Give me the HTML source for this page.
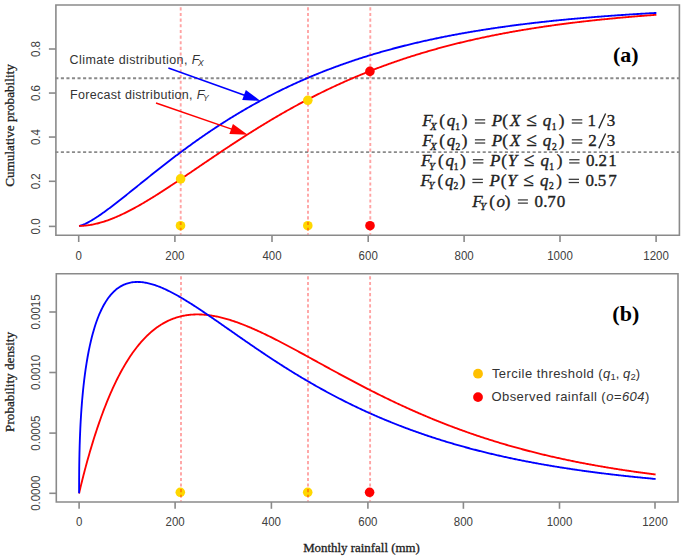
<!DOCTYPE html>
<html><head><meta charset="utf-8"><title>Cumulative and probability density</title><style>
html,body{margin:0;padding:0;background:#fff;overflow:hidden;}
svg{display:block;}
.tk{font-family:"Liberation Sans",sans-serif;font-size:11.5px;fill:#404040;}
.yl,.xl{font-family:"Liberation Serif",serif;font-size:13.2px;fill:#222;stroke:#222;stroke-width:0.3px;}
.xl{font-size:12.9px;}
.tag{font-family:"Liberation Serif",serif;font-size:22px;font-weight:bold;fill:#000;}
.ann{font-family:"Liberation Sans",sans-serif;font-size:12.5px;fill:#333;letter-spacing:0.4px;}
.lg{font-family:"Liberation Sans",sans-serif;font-size:13px;fill:#333;letter-spacing:0.45px;}
.fm{font-family:"Liberation Serif",serif;font-size:17px;fill:#222;}
.fm text{stroke:#222;stroke-width:0.35px;}
.fm rect{fill:#3a3a3a;}
.fm line{stroke:#2a2a2a;}
</style></head><body>
<svg width="685" height="559" viewBox="0 0 685 559">
<rect width="685" height="559" fill="#fff"/>
<path d="M55.9 5.0H679.4V235.2H55.9Z" fill="none" stroke="#8a8a8a" stroke-width="1.6"/>
<line x1="78.7" y1="235.2" x2="78.7" y2="242.0" stroke="#8a8a8a" stroke-width="1.6"/>
<text transform="translate(78.7 259.5) scale(1 1.1)" class="tk" text-anchor="middle">0</text>
<line x1="174.9" y1="235.2" x2="174.9" y2="242.0" stroke="#8a8a8a" stroke-width="1.6"/>
<text transform="translate(174.9 259.5) scale(1 1.1)" class="tk" text-anchor="middle">200</text>
<line x1="272.0" y1="235.2" x2="272.0" y2="242.0" stroke="#8a8a8a" stroke-width="1.6"/>
<text transform="translate(272.0 259.5) scale(1 1.1)" class="tk" text-anchor="middle">400</text>
<line x1="368.2" y1="235.2" x2="368.2" y2="242.0" stroke="#8a8a8a" stroke-width="1.6"/>
<text transform="translate(368.2 259.5) scale(1 1.1)" class="tk" text-anchor="middle">600</text>
<line x1="464.1" y1="235.2" x2="464.1" y2="242.0" stroke="#8a8a8a" stroke-width="1.6"/>
<text transform="translate(464.1 259.5) scale(1 1.1)" class="tk" text-anchor="middle">800</text>
<line x1="560.0" y1="235.2" x2="560.0" y2="242.0" stroke="#8a8a8a" stroke-width="1.6"/>
<text transform="translate(560.0 259.5) scale(1 1.1)" class="tk" text-anchor="middle">1000</text>
<line x1="656.1" y1="235.2" x2="656.1" y2="242.0" stroke="#8a8a8a" stroke-width="1.6"/>
<text transform="translate(656.1 259.5) scale(1 1.1)" class="tk" text-anchor="middle">1200</text>
<line x1="48.9" y1="226.4" x2="55.9" y2="226.4" stroke="#8a8a8a" stroke-width="1.6"/>
<text transform="translate(40.3 226.4) rotate(-90) scale(1 1.1)" class="tk" text-anchor="middle">0.0</text>
<line x1="48.9" y1="181.3" x2="55.9" y2="181.3" stroke="#8a8a8a" stroke-width="1.6"/>
<text transform="translate(40.3 181.3) rotate(-90) scale(1 1.1)" class="tk" text-anchor="middle">0.2</text>
<line x1="48.9" y1="137.05" x2="55.9" y2="137.05" stroke="#8a8a8a" stroke-width="1.6"/>
<text transform="translate(40.3 137.05) rotate(-90) scale(1 1.1)" class="tk" text-anchor="middle">0.4</text>
<line x1="48.9" y1="93.05" x2="55.9" y2="93.05" stroke="#8a8a8a" stroke-width="1.6"/>
<text transform="translate(40.3 93.05) rotate(-90) scale(1 1.1)" class="tk" text-anchor="middle">0.6</text>
<line x1="48.9" y1="49.0" x2="55.9" y2="49.0" stroke="#8a8a8a" stroke-width="1.6"/>
<text transform="translate(40.3 49.0) rotate(-90) scale(1 1.1)" class="tk" text-anchor="middle">0.8</text>
<text transform="translate(14.3 125.5) rotate(-90)" class="yl" text-anchor="middle">Cumulative probability</text>
<text x="625.8" y="62.0" class="tag" text-anchor="middle">(a)</text>
<line x1="55.3" y1="152.07" x2="679.4" y2="152.07" stroke="#8a8a8a" stroke-width="1.8" stroke-dasharray="3.1 2.45"/>
<line x1="55.3" y1="78.23" x2="679.4" y2="78.23" stroke="#8a8a8a" stroke-width="1.8" stroke-dasharray="3.1 2.45"/>
<polyline points="79.00,225.90 79.48,225.84 79.96,225.75 80.44,225.63 80.92,225.49 81.41,225.34 81.89,225.18 82.37,225.01 82.85,224.83 83.33,224.64 83.81,224.44 84.29,224.23 84.77,224.02 85.26,223.80 85.74,223.57 86.22,223.34 86.70,223.10 87.18,222.86 87.66,222.61 88.14,222.35 88.62,222.09 89.59,221.56 90.55,221.02 91.51,220.46 92.47,219.88 93.43,219.29 94.40,218.69 95.36,218.08 96.32,217.46 97.28,216.82 98.25,216.18 99.21,215.53 100.17,214.87 101.13,214.20 102.10,213.53 103.06,212.85 104.02,212.16 104.98,211.46 105.94,210.76 106.91,210.06 107.87,209.34 108.83,208.63 109.79,207.91 110.76,207.18 111.72,206.45 112.68,205.72 113.64,204.98 114.61,204.24 115.57,203.50 116.53,202.75 117.49,202.00 118.46,201.25 119.42,200.50 120.38,199.74 121.34,198.98 122.30,198.22 123.27,197.46 124.23,196.69 125.19,195.93 126.15,195.16 127.12,194.39 128.08,193.62 129.04,192.85 130.00,192.08 130.97,191.31 131.93,190.54 132.89,189.76 133.85,188.99 134.81,188.22 135.78,187.44 136.74,186.67 137.70,185.89 138.66,185.12 139.63,184.35 140.59,183.57 141.55,182.80 142.51,182.02 143.48,181.25 144.44,180.48 145.40,179.71 146.36,178.93 147.32,178.16 148.29,177.39 149.25,176.62 150.21,175.86 151.17,175.09 152.14,174.32 153.10,173.56 154.06,172.79 155.02,172.03 155.99,171.27 156.95,170.51 157.91,169.75 158.87,168.99 159.83,168.23 160.80,167.48 161.76,166.72 162.72,165.97 163.68,165.22 164.65,164.47 165.61,163.72 166.57,162.98 167.53,162.23 168.50,161.49 169.46,160.75 170.42,160.01 171.38,159.27 172.35,158.54 173.31,157.80 174.27,157.07 175.23,156.34 176.19,155.61 177.16,154.89 178.12,154.16 179.08,153.44 180.04,152.72 181.01,152.00 181.97,151.28 182.93,150.57 183.89,149.86 184.86,149.15 185.82,148.44 186.78,147.74 187.74,147.03 188.70,146.33 189.67,145.63 190.63,144.93 191.59,144.24 192.55,143.55 193.52,142.86 194.48,142.17 195.44,141.48 196.40,140.80 197.37,140.12 198.33,139.44 199.29,138.77 200.25,138.09 201.21,137.42 202.18,136.75 203.14,136.08 204.10,135.42 205.06,134.76 206.03,134.10 206.99,133.44 207.95,132.79 208.91,132.13 209.88,131.48 210.84,130.84 211.80,130.19 212.76,129.55 213.72,128.91 214.69,128.27 215.65,127.63 216.61,127.00 217.57,126.37 218.54,125.74 219.50,125.11 220.46,124.49 221.42,123.87 222.39,123.25 223.35,122.64 224.31,122.02 225.27,121.41 226.23,120.80 227.20,120.20 228.16,119.59 229.12,118.99 230.08,118.39 231.05,117.80 232.01,117.20 232.97,116.61 233.93,116.02 234.90,115.44 235.86,114.85 236.82,114.27 237.78,113.69 238.75,113.12 239.71,112.54 240.67,111.97 241.63,111.40 242.59,110.83 243.56,110.27 244.52,109.71 245.48,109.15 246.44,108.59 247.41,108.04 248.37,107.48 249.33,106.93 250.29,106.39 251.26,105.84 252.22,105.30 253.18,104.76 254.14,104.22 255.10,103.69 256.07,103.15 257.03,102.62 257.99,102.10 258.95,101.57 259.92,101.05 260.88,100.53 261.84,100.01 262.80,99.49 263.77,98.98 264.73,98.47 265.69,97.96 266.65,97.45 267.61,96.94 268.58,96.44 269.54,95.94 270.50,95.45 271.46,94.95 272.43,94.46 273.39,93.97 274.35,93.48 275.31,92.99 276.28,92.51 277.24,92.03 278.20,91.55 279.16,91.07 280.12,90.60 281.09,90.13 282.05,89.66 283.01,89.19 283.97,88.72 284.94,88.26 285.90,87.80 286.86,87.34 287.82,86.88 288.79,86.43 289.75,85.98 290.71,85.53 291.67,85.08 292.64,84.63 293.60,84.19 294.56,83.75 295.52,83.31 296.48,82.87 297.45,82.44 298.41,82.00 299.37,81.57 300.33,81.14 301.30,80.72 302.26,80.29 303.22,79.87 304.18,79.45 305.15,79.03 306.11,78.62 307.07,78.20 308.03,77.79 308.99,77.38 309.96,76.97 310.92,76.57 311.88,76.16 312.84,75.76 313.81,75.36 314.77,74.97 315.73,74.57 316.69,74.18 317.66,73.79 318.62,73.40 319.58,73.01 320.54,72.62 321.50,72.24 322.47,71.86 323.43,71.48 324.39,71.10 325.35,70.72 326.32,70.35 327.28,69.98 328.24,69.61 329.20,69.24 330.17,68.87 331.13,68.51 332.09,68.15 333.05,67.79 334.01,67.43 334.98,67.07 335.94,66.71 336.90,66.36 337.86,66.01 338.83,65.66 339.79,65.31 340.75,64.97 341.71,64.62 342.68,64.28 343.64,63.94 344.60,63.60 345.56,63.26 346.52,62.93 347.49,62.59 348.45,62.26 349.41,61.93 350.37,61.60 351.34,61.28 352.30,60.95 353.26,60.63 354.22,60.31 355.19,59.99 356.15,59.67 357.11,59.35 358.07,59.04 359.04,58.73 360.00,58.41 360.96,58.11 361.92,57.80 362.88,57.49 363.85,57.19 364.81,56.88 365.77,56.58 366.73,56.28 367.70,55.98 368.66,55.69 369.62,55.39 370.58,55.10 371.55,54.81 372.51,54.51 373.47,54.23 374.43,53.94 375.39,53.65 376.36,53.37 377.32,53.09 378.28,52.80 379.24,52.52 380.21,52.25 381.17,51.97 382.13,51.69 383.09,51.42 384.06,51.15 385.02,50.88 385.98,50.61 386.94,50.34 387.90,50.08 388.87,49.81 389.83,49.55 390.79,49.28 391.75,49.02 392.72,48.76 393.68,48.51 394.64,48.25 395.60,48.00 396.57,47.74 397.53,47.49 398.49,47.24 399.45,46.99 400.41,46.74 401.38,46.50 402.34,46.25 403.30,46.01 404.26,45.76 405.23,45.52 406.19,45.28 407.15,45.04 408.11,44.81 409.08,44.57 410.04,44.34 411.00,44.10 411.96,43.87 412.93,43.64 413.89,43.41 414.85,43.18 415.81,42.95 416.77,42.73 417.74,42.50 418.70,42.28 419.66,42.06 420.62,41.84 421.59,41.62 422.55,41.40 423.51,41.18 424.47,40.97 425.44,40.75 426.40,40.54 427.36,40.33 428.32,40.12 429.28,39.91 430.25,39.70 431.21,39.49 432.17,39.28 433.13,39.08 434.10,38.87 435.06,38.67 436.02,38.47 436.98,38.27 437.95,38.07 438.91,37.87 439.87,37.67 440.83,37.48 441.79,37.28 442.76,37.09 443.72,36.89 444.68,36.70 445.64,36.51 446.61,36.32 447.57,36.13 448.53,35.94 449.49,35.76 450.46,35.57 451.42,35.39 452.38,35.20 453.34,35.02 454.30,34.84 455.27,34.66 456.23,34.48 457.19,34.30 458.15,34.13 459.12,33.95 460.08,33.77 461.04,33.60 462.00,33.43 462.97,33.25 463.93,33.08 464.89,32.91 465.85,32.74 466.81,32.58 467.78,32.41 468.74,32.24 469.70,32.08 470.66,31.91 471.63,31.75 472.59,31.58 473.55,31.42 474.51,31.26 475.48,31.10 476.44,30.94 477.40,30.79 478.36,30.63 479.33,30.47 480.29,30.32 481.25,30.16 482.21,30.01 483.17,29.86 484.14,29.70 485.10,29.55 486.06,29.40 487.02,29.25 487.99,29.10 488.95,28.96 489.91,28.81 490.87,28.66 491.84,28.52 492.80,28.38 493.76,28.23 494.72,28.09 495.68,27.95 496.65,27.81 497.61,27.67 498.57,27.53 499.53,27.39 500.50,27.25 501.46,27.11 502.42,26.98 503.38,26.84 504.35,26.71 505.31,26.57 506.27,26.44 507.23,26.31 508.19,26.18 509.16,26.05 510.12,25.92 511.08,25.79 512.04,25.66 513.01,25.53 513.97,25.40 514.93,25.28 515.89,25.15 516.86,25.03 517.82,24.90 518.78,24.78 519.74,24.66 520.70,24.54 521.67,24.42 522.63,24.30 523.59,24.18 524.55,24.06 525.52,23.94 526.48,23.82 527.44,23.70 528.40,23.59 529.37,23.47 530.33,23.36 531.29,23.24 532.25,23.13 533.22,23.02 534.18,22.90 535.14,22.79 536.10,22.68 537.06,22.57 538.03,22.46 538.99,22.35 539.95,22.24 540.91,22.14 541.88,22.03 542.84,21.92 543.80,21.82 544.76,21.71 545.73,21.61 546.69,21.50 547.65,21.40 548.61,21.30 549.57,21.19 550.54,21.09 551.50,20.99 552.46,20.89 553.42,20.79 554.39,20.69 555.35,20.59 556.31,20.49 557.27,20.40 558.24,20.30 559.20,20.20 560.16,20.11 561.12,20.01 562.08,19.92 563.05,19.82 564.01,19.73 564.97,19.64 565.93,19.55 566.90,19.45 567.86,19.36 568.82,19.27 569.78,19.18 570.75,19.09 571.71,19.00 572.67,18.91 573.63,18.83 574.59,18.74 575.56,18.65 576.52,18.56 577.48,18.48 578.44,18.39 579.41,18.31 580.37,18.22 581.33,18.14 582.29,18.05 583.26,17.97 584.22,17.89 585.18,17.81 586.14,17.73 587.10,17.64 588.07,17.56 589.03,17.48 589.99,17.40 590.95,17.32 591.92,17.25 592.88,17.17 593.84,17.09 594.80,17.01 595.77,16.94 596.73,16.86 597.69,16.78 598.65,16.71 599.62,16.63 600.58,16.56 601.54,16.48 602.50,16.41 603.46,16.34 604.43,16.26 605.39,16.19 606.35,16.12 607.31,16.05 608.28,15.98 609.24,15.91 610.20,15.84 611.16,15.77 612.13,15.70 613.09,15.63 614.05,15.56 615.01,15.49 615.97,15.42 616.94,15.35 617.90,15.29 618.86,15.22 619.82,15.15 620.79,15.09 621.75,15.02 622.71,14.96 623.67,14.89 624.64,14.83 625.60,14.77 626.56,14.70 627.52,14.64 628.48,14.58 629.45,14.51 630.41,14.45 631.37,14.39 632.33,14.33 633.30,14.27 634.26,14.21 635.22,14.15 636.18,14.09 637.15,14.03 638.11,13.97 639.07,13.91 640.03,13.85 640.99,13.79 641.96,13.74 642.92,13.68 643.88,13.62 644.84,13.57 645.81,13.51 646.77,13.45 647.73,13.40 648.69,13.34 649.66,13.29 650.62,13.23 651.58,13.18 652.54,13.12 653.51,13.07 654.47,13.02 655.43,12.96 656.39,12.91" fill="none" stroke="#0000ff" stroke-width="1.85" stroke-linejoin="round"/>
<polyline points="79.00,225.90 79.48,225.90 79.96,225.89 80.44,225.88 80.92,225.87 81.41,225.85 81.89,225.83 82.37,225.81 82.85,225.78 83.33,225.75 83.81,225.72 84.29,225.68 84.77,225.64 85.26,225.59 85.74,225.55 86.22,225.49 86.70,225.44 87.18,225.38 87.66,225.32 88.14,225.26 88.62,225.19 89.59,225.05 90.55,224.89 91.51,224.73 92.47,224.55 93.43,224.36 94.40,224.16 95.36,223.94 96.32,223.72 97.28,223.49 98.25,223.24 99.21,222.99 100.17,222.72 101.13,222.45 102.10,222.16 103.06,221.87 104.02,221.56 104.98,221.25 105.94,220.93 106.91,220.60 107.87,220.26 108.83,219.91 109.79,219.56 110.76,219.19 111.72,218.82 112.68,218.44 113.64,218.05 114.61,217.65 115.57,217.25 116.53,216.84 117.49,216.42 118.46,216.00 119.42,215.57 120.38,215.13 121.34,214.68 122.30,214.23 123.27,213.78 124.23,213.31 125.19,212.84 126.15,212.37 127.12,211.89 128.08,211.40 129.04,210.91 130.00,210.41 130.97,209.90 131.93,209.40 132.89,208.88 133.85,208.36 134.81,207.84 135.78,207.31 136.74,206.78 137.70,206.24 138.66,205.70 139.63,205.16 140.59,204.61 141.55,204.05 142.51,203.49 143.48,202.93 144.44,202.37 145.40,201.80 146.36,201.22 147.32,200.65 148.29,200.07 149.25,199.48 150.21,198.90 151.17,198.31 152.14,197.72 153.10,197.12 154.06,196.52 155.02,195.92 155.99,195.32 156.95,194.71 157.91,194.10 158.87,193.49 159.83,192.88 160.80,192.26 161.76,191.64 162.72,191.02 163.68,190.40 164.65,189.77 165.61,189.15 166.57,188.52 167.53,187.89 168.50,187.26 169.46,186.62 170.42,185.99 171.38,185.35 172.35,184.72 173.31,184.08 174.27,183.44 175.23,182.79 176.19,182.15 177.16,181.51 178.12,180.86 179.08,180.22 180.04,179.57 181.01,178.92 181.97,178.27 182.93,177.62 183.89,176.97 184.86,176.32 185.82,175.67 186.78,175.02 187.74,174.36 188.70,173.71 189.67,173.06 190.63,172.40 191.59,171.75 192.55,171.09 193.52,170.44 194.48,169.78 195.44,169.13 196.40,168.47 197.37,167.82 198.33,167.16 199.29,166.51 200.25,165.85 201.21,165.20 202.18,164.54 203.14,163.89 204.10,163.23 205.06,162.58 206.03,161.92 206.99,161.27 207.95,160.62 208.91,159.96 209.88,159.31 210.84,158.66 211.80,158.01 212.76,157.36 213.72,156.71 214.69,156.06 215.65,155.41 216.61,154.76 217.57,154.11 218.54,153.47 219.50,152.82 220.46,152.17 221.42,151.53 222.39,150.89 223.35,150.24 224.31,149.60 225.27,148.96 226.23,148.32 227.20,147.68 228.16,147.05 229.12,146.41 230.08,145.77 231.05,145.14 232.01,144.50 232.97,143.87 233.93,143.24 234.90,142.61 235.86,141.98 236.82,141.36 237.78,140.73 238.75,140.10 239.71,139.48 240.67,138.86 241.63,138.24 242.59,137.62 243.56,137.00 244.52,136.38 245.48,135.77 246.44,135.15 247.41,134.54 248.37,133.93 249.33,133.32 250.29,132.71 251.26,132.10 252.22,131.50 253.18,130.89 254.14,130.29 255.10,129.69 256.07,129.09 257.03,128.49 257.99,127.90 258.95,127.30 259.92,126.71 260.88,126.12 261.84,125.53 262.80,124.94 263.77,124.36 264.73,123.77 265.69,123.19 266.65,122.61 267.61,122.03 268.58,121.45 269.54,120.87 270.50,120.30 271.46,119.73 272.43,119.16 273.39,118.59 274.35,118.02 275.31,117.45 276.28,116.89 277.24,116.33 278.20,115.77 279.16,115.21 280.12,114.65 281.09,114.10 282.05,113.55 283.01,113.00 283.97,112.45 284.94,111.90 285.90,111.35 286.86,110.81 287.82,110.27 288.79,109.73 289.75,109.19 290.71,108.66 291.67,108.12 292.64,107.59 293.60,107.06 294.56,106.53 295.52,106.00 296.48,105.48 297.45,104.96 298.41,104.43 299.37,103.92 300.33,103.40 301.30,102.88 302.26,102.37 303.22,101.86 304.18,101.35 305.15,100.84 306.11,100.34 307.07,99.83 308.03,99.33 308.99,98.83 309.96,98.33 310.92,97.84 311.88,97.34 312.84,96.85 313.81,96.36 314.77,95.87 315.73,95.39 316.69,94.90 317.66,94.42 318.62,93.94 319.58,93.46 320.54,92.98 321.50,92.51 322.47,92.04 323.43,91.57 324.39,91.10 325.35,90.63 326.32,90.17 327.28,89.70 328.24,89.24 329.20,88.78 330.17,88.33 331.13,87.87 332.09,87.42 333.05,86.97 334.01,86.52 334.98,86.07 335.94,85.62 336.90,85.18 337.86,84.74 338.83,84.30 339.79,83.86 340.75,83.42 341.71,82.99 342.68,82.56 343.64,82.13 344.60,81.70 345.56,81.27 346.52,80.84 347.49,80.42 348.45,80.00 349.41,79.58 350.37,79.16 351.34,78.75 352.30,78.34 353.26,77.92 354.22,77.51 355.19,77.11 356.15,76.70 357.11,76.30 358.07,75.89 359.04,75.49 360.00,75.09 360.96,74.70 361.92,74.30 362.88,73.91 363.85,73.52 364.81,73.13 365.77,72.74 366.73,72.35 367.70,71.97 368.66,71.59 369.62,71.21 370.58,70.83 371.55,70.45 372.51,70.08 373.47,69.70 374.43,69.33 375.39,68.96 376.36,68.59 377.32,68.23 378.28,67.86 379.24,67.50 380.21,67.14 381.17,66.78 382.13,66.42 383.09,66.07 384.06,65.71 385.02,65.36 385.98,65.01 386.94,64.66 387.90,64.31 388.87,63.97 389.83,63.62 390.79,63.28 391.75,62.94 392.72,62.60 393.68,62.27 394.64,61.93 395.60,61.60 396.57,61.26 397.53,60.93 398.49,60.61 399.45,60.28 400.41,59.95 401.38,59.63 402.34,59.31 403.30,58.99 404.26,58.67 405.23,58.35 406.19,58.03 407.15,57.72 408.11,57.41 409.08,57.10 410.04,56.79 411.00,56.48 411.96,56.17 412.93,55.87 413.89,55.57 414.85,55.26 415.81,54.96 416.77,54.67 417.74,54.37 418.70,54.07 419.66,53.78 420.62,53.49 421.59,53.20 422.55,52.91 423.51,52.62 424.47,52.33 425.44,52.05 426.40,51.77 427.36,51.49 428.32,51.20 429.28,50.93 430.25,50.65 431.21,50.37 432.17,50.10 433.13,49.83 434.10,49.55 435.06,49.28 436.02,49.02 436.98,48.75 437.95,48.48 438.91,48.22 439.87,47.96 440.83,47.69 441.79,47.43 442.76,47.18 443.72,46.92 444.68,46.66 445.64,46.41 446.61,46.15 447.57,45.90 448.53,45.65 449.49,45.40 450.46,45.16 451.42,44.91 452.38,44.66 453.34,44.42 454.30,44.18 455.27,43.94 456.23,43.70 457.19,43.46 458.15,43.22 459.12,42.99 460.08,42.75 461.04,42.52 462.00,42.29 462.97,42.06 463.93,41.83 464.89,41.60 465.85,41.37 466.81,41.15 467.78,40.92 468.74,40.70 469.70,40.48 470.66,40.25 471.63,40.04 472.59,39.82 473.55,39.60 474.51,39.38 475.48,39.17 476.44,38.96 477.40,38.74 478.36,38.53 479.33,38.32 480.29,38.11 481.25,37.91 482.21,37.70 483.17,37.50 484.14,37.29 485.10,37.09 486.06,36.89 487.02,36.69 487.99,36.49 488.95,36.29 489.91,36.09 490.87,35.90 491.84,35.70 492.80,35.51 493.76,35.31 494.72,35.12 495.68,34.93 496.65,34.74 497.61,34.55 498.57,34.37 499.53,34.18 500.50,33.99 501.46,33.81 502.42,33.63 503.38,33.45 504.35,33.26 505.31,33.08 506.27,32.91 507.23,32.73 508.19,32.55 509.16,32.37 510.12,32.20 511.08,32.03 512.04,31.85 513.01,31.68 513.97,31.51 514.93,31.34 515.89,31.17 516.86,31.00 517.82,30.84 518.78,30.67 519.74,30.51 520.70,30.34 521.67,30.18 522.63,30.02 523.59,29.86 524.55,29.70 525.52,29.54 526.48,29.38 527.44,29.22 528.40,29.06 529.37,28.91 530.33,28.75 531.29,28.60 532.25,28.45 533.22,28.30 534.18,28.14 535.14,27.99 536.10,27.85 537.06,27.70 538.03,27.55 538.99,27.40 539.95,27.26 540.91,27.11 541.88,26.97 542.84,26.82 543.80,26.68 544.76,26.54 545.73,26.40 546.69,26.26 547.65,26.12 548.61,25.98 549.57,25.85 550.54,25.71 551.50,25.57 552.46,25.44 553.42,25.30 554.39,25.17 555.35,25.04 556.31,24.91 557.27,24.78 558.24,24.65 559.20,24.52 560.16,24.39 561.12,24.26 562.08,24.13 563.05,24.01 564.01,23.88 564.97,23.76 565.93,23.63 566.90,23.51 567.86,23.39 568.82,23.26 569.78,23.14 570.75,23.02 571.71,22.90 572.67,22.79 573.63,22.67 574.59,22.55 575.56,22.43 576.52,22.32 577.48,22.20 578.44,22.09 579.41,21.97 580.37,21.86 581.33,21.75 582.29,21.64 583.26,21.52 584.22,21.41 585.18,21.30 586.14,21.19 587.10,21.09 588.07,20.98 589.03,20.87 589.99,20.76 590.95,20.66 591.92,20.55 592.88,20.45 593.84,20.35 594.80,20.24 595.77,20.14 596.73,20.04 597.69,19.94 598.65,19.84 599.62,19.73 600.58,19.64 601.54,19.54 602.50,19.44 603.46,19.34 604.43,19.24 605.39,19.15 606.35,19.05 607.31,18.96 608.28,18.86 609.24,18.77 610.20,18.67 611.16,18.58 612.13,18.49 613.09,18.40 614.05,18.30 615.01,18.21 615.97,18.12 616.94,18.03 617.90,17.95 618.86,17.86 619.82,17.77 620.79,17.68 621.75,17.59 622.71,17.51 623.67,17.42 624.64,17.34 625.60,17.25 626.56,17.17 627.52,17.08 628.48,17.00 629.45,16.92 630.41,16.84 631.37,16.76 632.33,16.67 633.30,16.59 634.26,16.51 635.22,16.43 636.18,16.36 637.15,16.28 638.11,16.20 639.07,16.12 640.03,16.04 640.99,15.97 641.96,15.89 642.92,15.82 643.88,15.74 644.84,15.67 645.81,15.59 646.77,15.52 647.73,15.44 648.69,15.37 649.66,15.30 650.62,15.23 651.58,15.16 652.54,15.09 653.51,15.01 654.47,14.94 655.43,14.87 656.39,14.81" fill="none" stroke="#ff0000" stroke-width="1.85" stroke-linejoin="round"/>
<circle cx="180.50" cy="225.70" r="4.8" fill="#ffd700"/>
<circle cx="307.80" cy="225.70" r="4.8" fill="#ffd700"/>
<circle cx="370.00" cy="225.70" r="4.8" fill="#ff0000"/>
<line x1="180.7" y1="7.3" x2="180.7" y2="234.4" stroke="rgba(255,0,0,0.36)" stroke-width="1.9" stroke-dasharray="3.1 2.55"/>
<line x1="308.0" y1="7.3" x2="308.0" y2="234.4" stroke="rgba(255,0,0,0.36)" stroke-width="1.9" stroke-dasharray="3.1 2.55"/>
<line x1="370.3" y1="7.3" x2="370.3" y2="234.4" stroke="rgba(255,0,0,0.36)" stroke-width="1.9" stroke-dasharray="3.1 2.55"/>
<circle cx="180.60" cy="178.92" r="4.8" fill="#ffd700"/>
<circle cx="307.80" cy="100.30" r="4.8" fill="#ffd700"/>
<circle cx="369.90" cy="71.40" r="4.8" fill="#ff0000"/>
<line x1="168.4" y1="68" x2="245.90" y2="95.69" stroke="#0000ff" stroke-width="1.5"/>
<polygon points="260.50,100.90 242.20,100.10 245.84,89.93" fill="#0000ff"/>
<line x1="156" y1="103" x2="233.05" y2="129.64" stroke="#ff0000" stroke-width="1.5"/>
<polygon points="247.70,134.70 229.40,134.09 232.92,123.88" fill="#ff0000"/>
<text x="69.6" y="64" class="ann">Climate distribution, <tspan font-style="italic">F</tspan><tspan font-style="italic" font-size="8.5" dx="-1.6" dy="2.2">X</tspan></text>
<text x="70" y="99.2" class="ann" style="letter-spacing:0.31px">Forecast distribution, <tspan font-style="italic">F</tspan><tspan font-style="italic" font-size="8.5" dx="-1.6" dy="2.2">Y</tspan></text>
<g class="fm"><text x="422.20" y="126.40" style="font-style:italic;font-size:17px">F</text><text x="430.30" y="129.70" style="font-style:italic;font-size:10.5px">X</text><text x="439.25" y="126.40" style="font-size:17px">(</text><text x="446.80" y="126.40" style="font-style:italic;font-size:17px">q</text><text x="455.20" y="129.70" style="font-size:9.5px">1</text><text x="461.80" y="126.40" style="font-size:17px">)</text><rect x="474.90" y="119.20" width="10.3" height="1.25"/><rect x="474.90" y="122.40" width="10.3" height="1.25"/><text x="491.70" y="126.40" style="font-style:italic;font-size:17px">P</text><text x="502.35" y="126.40" style="font-size:17px">(</text><text x="509.90" y="126.40" style="font-style:italic;font-size:17px">X</text><text x="526.25" y="126.40" style="font-size:19px">≤</text><text x="542.80" y="126.40" style="font-style:italic;font-size:17px">q</text><text x="551.70" y="129.70" style="font-size:9.5px">1</text><text x="558.80" y="126.40" style="font-size:17px">)</text><rect x="571.80" y="119.20" width="10.5" height="1.25"/><rect x="571.80" y="122.40" width="10.5" height="1.25"/><text x="587.60" y="126.40" style="font-size:17px">1</text><line x1="598.80" y1="128.40" x2="605.60" y2="113.50" stroke-width="1.35"/><text x="606.75" y="126.40" style="font-size:17px">3</text><text x="422.20" y="146.40" style="font-style:italic;font-size:17px">F</text><text x="430.30" y="149.70" style="font-style:italic;font-size:10.5px">X</text><text x="439.25" y="146.40" style="font-size:17px">(</text><text x="446.80" y="146.40" style="font-style:italic;font-size:17px">q</text><text x="455.60" y="149.70" style="font-size:9.5px">2</text><text x="461.80" y="146.40" style="font-size:17px">)</text><rect x="474.90" y="139.20" width="10.3" height="1.25"/><rect x="474.90" y="142.40" width="10.3" height="1.25"/><text x="491.70" y="146.40" style="font-style:italic;font-size:17px">P</text><text x="502.35" y="146.40" style="font-size:17px">(</text><text x="509.90" y="146.40" style="font-style:italic;font-size:17px">X</text><text x="526.25" y="146.40" style="font-size:19px">≤</text><text x="542.80" y="146.40" style="font-style:italic;font-size:17px">q</text><text x="552.10" y="149.70" style="font-size:9.5px">2</text><text x="558.80" y="146.40" style="font-size:17px">)</text><rect x="571.80" y="139.20" width="10.5" height="1.25"/><rect x="571.80" y="142.40" width="10.5" height="1.25"/><text x="588.35" y="146.40" style="font-size:17px">2</text><line x1="598.80" y1="148.40" x2="605.60" y2="133.50" stroke-width="1.35"/><text x="606.75" y="146.40" style="font-size:17px">3</text><text x="421.00" y="166.30" style="font-style:italic;font-size:17px">F</text><text x="428.90" y="169.60" style="font-style:italic;font-size:10.5px">Y</text><text x="437.95" y="166.30" style="font-size:17px">(</text><text x="445.40" y="166.30" style="font-style:italic;font-size:17px">q</text><text x="453.70" y="169.60" style="font-size:9.5px">1</text><text x="460.30" y="166.30" style="font-size:17px">)</text><rect x="472.90" y="159.10" width="10.5" height="1.25"/><rect x="472.90" y="162.30" width="10.5" height="1.25"/><text x="490.10" y="166.30" style="font-style:italic;font-size:17px">P</text><text x="501.15" y="166.30" style="font-size:17px">(</text><text x="507.80" y="166.30" style="font-style:italic;font-size:17px">Y</text><text x="523.75" y="166.30" style="font-size:19px">≤</text><text x="540.50" y="166.30" style="font-style:italic;font-size:17px">q</text><text x="549.20" y="169.60" style="font-size:9.5px">1</text><text x="556.70" y="166.30" style="font-size:17px">)</text><rect x="569.20" y="159.10" width="10.3" height="1.25"/><rect x="569.20" y="162.30" width="10.3" height="1.25"/><text x="586.05" y="166.30" style="font-size:17px">0</text><text x="594.15" y="166.30" style="font-size:17px">.</text><text x="598.55" y="166.30" style="font-size:17px">2</text><text x="608.20" y="166.30" style="font-size:17px">1</text><text x="420.50" y="185.90" style="font-style:italic;font-size:17px">F</text><text x="428.40" y="189.20" style="font-style:italic;font-size:10.5px">Y</text><text x="437.45" y="185.90" style="font-size:17px">(</text><text x="444.90" y="185.90" style="font-style:italic;font-size:17px">q</text><text x="453.60" y="189.20" style="font-size:9.5px">2</text><text x="459.80" y="185.90" style="font-size:17px">)</text><rect x="472.40" y="178.70" width="10.5" height="1.25"/><rect x="472.40" y="181.90" width="10.5" height="1.25"/><text x="489.60" y="185.90" style="font-style:italic;font-size:17px">P</text><text x="500.65" y="185.90" style="font-size:17px">(</text><text x="507.30" y="185.90" style="font-style:italic;font-size:17px">Y</text><text x="523.25" y="185.90" style="font-size:19px">≤</text><text x="540.00" y="185.90" style="font-style:italic;font-size:17px">q</text><text x="549.10" y="189.20" style="font-size:9.5px">2</text><text x="556.20" y="185.90" style="font-size:17px">)</text><rect x="568.70" y="178.70" width="10.3" height="1.25"/><rect x="568.70" y="181.90" width="10.3" height="1.25"/><text x="585.55" y="185.90" style="font-size:17px">0</text><text x="593.65" y="185.90" style="font-size:17px">.</text><text x="597.80" y="185.90" style="font-size:17px">5</text><text x="608.20" y="185.90" style="font-size:17px">7</text><text x="472.20" y="206.50" style="font-style:italic;font-size:17px">F</text><text x="480.20" y="209.80" style="font-style:italic;font-size:10.5px">Y</text><text x="489.35" y="206.50" style="font-size:17px">(</text><text x="496.40" y="206.50" style="font-style:italic;font-size:17px">o</text><text x="504.80" y="206.50" style="font-size:17px">)</text><rect x="517.90" y="199.30" width="10.0" height="1.25"/><rect x="517.90" y="202.50" width="10.0" height="1.25"/><text x="534.45" y="206.50" style="font-size:17px">0</text><text x="543.15" y="206.50" style="font-size:17px">.</text><text x="547.30" y="206.50" style="font-size:17px">7</text><text x="556.75" y="206.50" style="font-size:17px">0</text></g>
<path d="M56.3 273.8H678.0V502.0H56.3Z" fill="none" stroke="#8a8a8a" stroke-width="1.6"/>
<line x1="79.1" y1="502.0" x2="79.1" y2="508.8" stroke="#8a8a8a" stroke-width="1.6"/>
<text transform="translate(79.1 526.3) scale(1 1.1)" class="tk" text-anchor="middle">0</text>
<line x1="175.1" y1="502.0" x2="175.1" y2="508.8" stroke="#8a8a8a" stroke-width="1.6"/>
<text transform="translate(175.1 526.3) scale(1 1.1)" class="tk" text-anchor="middle">200</text>
<line x1="271.4" y1="502.0" x2="271.4" y2="508.8" stroke="#8a8a8a" stroke-width="1.6"/>
<text transform="translate(271.4 526.3) scale(1 1.1)" class="tk" text-anchor="middle">400</text>
<line x1="367.9" y1="502.0" x2="367.9" y2="508.8" stroke="#8a8a8a" stroke-width="1.6"/>
<text transform="translate(367.9 526.3) scale(1 1.1)" class="tk" text-anchor="middle">600</text>
<line x1="463.4" y1="502.0" x2="463.4" y2="508.8" stroke="#8a8a8a" stroke-width="1.6"/>
<text transform="translate(463.4 526.3) scale(1 1.1)" class="tk" text-anchor="middle">800</text>
<line x1="559.5" y1="502.0" x2="559.5" y2="508.8" stroke="#8a8a8a" stroke-width="1.6"/>
<text transform="translate(559.5 526.3) scale(1 1.1)" class="tk" text-anchor="middle">1000</text>
<line x1="655.0" y1="502.0" x2="655.0" y2="508.8" stroke="#8a8a8a" stroke-width="1.6"/>
<text transform="translate(655.0 526.3) scale(1 1.1)" class="tk" text-anchor="middle">1200</text>
<line x1="49.3" y1="493.3" x2="56.3" y2="493.3" stroke="#8a8a8a" stroke-width="1.6"/>
<text transform="translate(40.3 493.3) rotate(-90) scale(1 1.1)" class="tk" text-anchor="middle">0.0000</text>
<line x1="49.3" y1="433.1" x2="56.3" y2="433.1" stroke="#8a8a8a" stroke-width="1.6"/>
<text transform="translate(40.3 433.1) rotate(-90) scale(1 1.1)" class="tk" text-anchor="middle">0.0005</text>
<line x1="49.3" y1="372.5" x2="56.3" y2="372.5" stroke="#8a8a8a" stroke-width="1.6"/>
<text transform="translate(40.3 372.5) rotate(-90) scale(1 1.1)" class="tk" text-anchor="middle">0.0010</text>
<line x1="49.3" y1="312.0" x2="56.3" y2="312.0" stroke="#8a8a8a" stroke-width="1.6"/>
<text transform="translate(40.3 312.0) rotate(-90) scale(1 1.1)" class="tk" text-anchor="middle">0.0015</text>
<text transform="translate(14.3 381.9) rotate(-90)" class="yl" text-anchor="middle">Probability density</text>
<text x="625.8" y="321.0" class="tag" text-anchor="middle">(b)</text>
<polyline points="79.10,493.30 79.10,493.28 79.11,493.27 79.11,493.27 79.11,493.27 79.11,493.26 79.11,493.26 79.11,493.25 79.11,493.24 79.11,493.24 79.12,493.23 79.12,493.22 79.12,493.21 79.12,493.20 79.13,493.18 79.13,493.17 79.13,493.15 79.14,493.13 79.14,493.10 79.15,493.08 79.16,493.05 79.16,493.01 79.17,492.97 79.18,492.93 79.19,492.88 79.21,492.82 79.22,492.76 79.24,492.68 79.26,492.60 79.28,492.51 79.30,492.40 79.33,492.28 79.36,492.14 79.40,491.98 79.44,491.81 79.48,491.61 79.54,491.38 79.60,491.12 79.66,490.83 79.74,490.49 79.83,490.12 79.93,489.69 80.05,489.20 80.18,488.66 80.32,488.04 80.49,487.33 80.68,486.54 80.90,485.64 81.15,484.62 81.43,483.47 81.75,482.17 82.11,480.70 82.53,479.05 83.00,477.18 83.54,475.09 84.15,472.73 84.84,470.08 85.63,467.12 86.53,463.80 87.55,460.10 88.71,455.97 88.95,455.13 89.89,451.85 90.84,448.63 91.79,445.47 92.73,442.37 93.68,439.32 94.62,436.32 95.57,433.38 96.52,430.49 97.46,427.65 98.41,424.87 99.35,422.13 100.30,419.44 101.25,416.80 102.19,414.21 103.14,411.67 104.08,409.18 105.03,406.73 105.98,404.32 106.92,401.96 107.87,399.65 108.81,397.37 109.76,395.14 110.71,392.96 111.65,390.81 112.60,388.71 113.54,386.64 114.49,384.62 115.44,382.64 116.38,380.69 117.33,378.78 118.27,376.91 119.22,375.08 120.16,373.29 121.11,371.53 122.06,369.81 123.00,368.12 123.95,366.47 124.89,364.85 125.84,363.27 126.79,361.71 127.73,360.20 128.68,358.71 129.62,357.26 130.57,355.84 131.52,354.45 132.46,353.09 133.41,351.76 134.35,350.47 135.30,349.20 136.25,347.96 137.19,346.75 138.14,345.57 139.08,344.41 140.03,343.29 140.98,342.19 141.92,341.12 142.87,340.07 143.81,339.06 144.76,338.06 145.71,337.10 146.65,336.15 147.60,335.24 148.54,334.34 149.49,333.48 150.44,332.63 151.38,331.81 152.33,331.01 153.27,330.24 154.22,329.48 155.17,328.75 156.11,328.04 157.06,327.36 158.00,326.69 158.95,326.05 159.90,325.42 160.84,324.82 161.79,324.24 162.73,323.67 163.68,323.13 164.63,322.60 165.57,322.10 166.52,321.61 167.46,321.14 168.41,320.69 169.36,320.26 170.30,319.84 171.25,319.45 172.19,319.06 173.14,318.70 174.08,318.35 175.03,318.02 175.98,317.71 176.92,317.41 177.87,317.13 178.81,316.86 179.76,316.61 180.71,316.37 181.65,316.15 182.60,315.94 183.54,315.75 184.49,315.57 185.44,315.41 186.38,315.26 187.33,315.12 188.27,314.99 189.22,314.88 190.17,314.78 191.11,314.70 192.06,314.62 193.00,314.56 193.95,314.51 194.90,314.48 195.84,314.45 196.79,314.44 197.73,314.44 198.68,314.45 199.63,314.47 200.57,314.50 201.52,314.54 202.46,314.59 203.41,314.65 204.36,314.72 205.30,314.81 206.25,314.90 207.19,315.00 208.14,315.11 209.09,315.23 210.03,315.36 210.98,315.50 211.92,315.65 212.87,315.81 213.82,315.97 214.76,316.14 215.71,316.33 216.65,316.52 217.60,316.71 218.55,316.92 219.49,317.13 220.44,317.36 221.38,317.58 222.33,317.82 223.27,318.06 224.22,318.31 225.17,318.57 226.11,318.84 227.06,319.11 228.00,319.38 228.95,319.67 229.90,319.96 230.84,320.25 231.79,320.56 232.73,320.86 233.68,321.18 234.63,321.50 235.57,321.83 236.52,322.16 237.46,322.49 238.41,322.84 239.36,323.18 240.30,323.54 241.25,323.89 242.19,324.25 243.14,324.62 244.09,324.99 245.03,325.37 245.98,325.75 246.92,326.14 247.87,326.53 248.82,326.92 249.76,327.32 250.71,327.72 251.65,328.13 252.60,328.54 253.55,328.95 254.49,329.37 255.44,329.79 256.38,330.21 257.33,330.64 258.28,331.07 259.22,331.51 260.17,331.95 261.11,332.39 262.06,332.83 263.01,333.28 263.95,333.73 264.90,334.18 265.84,334.64 266.79,335.10 267.74,335.56 268.68,336.02 269.63,336.49 270.57,336.95 271.52,337.43 272.47,337.90 273.41,338.37 274.36,338.85 275.30,339.33 276.25,339.81 277.19,340.30 278.14,340.78 279.09,341.27 280.03,341.76 280.98,342.25 281.92,342.74 282.87,343.23 283.82,343.73 284.76,344.23 285.71,344.72 286.65,345.22 287.60,345.73 288.55,346.23 289.49,346.73 290.44,347.24 291.38,347.74 292.33,348.25 293.28,348.76 294.22,349.27 295.17,349.78 296.11,350.29 297.06,350.80 298.01,351.31 298.95,351.83 299.90,352.34 300.84,352.85 301.79,353.37 302.74,353.89 303.68,354.40 304.63,354.92 305.57,355.44 306.52,355.96 307.47,356.47 308.41,356.99 309.36,357.51 310.30,358.03 311.25,358.55 312.20,359.07 313.14,359.59 314.09,360.11 315.03,360.63 315.98,361.15 316.93,361.67 317.87,362.19 318.82,362.71 319.76,363.23 320.71,363.75 321.66,364.27 322.60,364.79 323.55,365.31 324.49,365.83 325.44,366.35 326.38,366.86 327.33,367.38 328.28,367.90 329.22,368.42 330.17,368.94 331.11,369.45 332.06,369.97 333.01,370.48 333.95,371.00 334.90,371.52 335.84,372.03 336.79,372.54 337.74,373.06 338.68,373.57 339.63,374.08 340.57,374.59 341.52,375.10 342.47,375.61 343.41,376.12 344.36,376.63 345.30,377.14 346.25,377.65 347.20,378.15 348.14,378.66 349.09,379.16 350.03,379.67 350.98,380.17 351.93,380.67 352.87,381.17 353.82,381.67 354.76,382.17 355.71,382.67 356.66,383.17 357.60,383.66 358.55,384.16 359.49,384.65 360.44,385.15 361.39,385.64 362.33,386.13 363.28,386.62 364.22,387.11 365.17,387.60 366.12,388.08 367.06,388.57 368.01,389.05 368.95,389.54 369.90,390.02 370.85,390.50 371.79,390.98 372.74,391.46 373.68,391.94 374.63,392.41 375.57,392.89 376.52,393.36 377.47,393.84 378.41,394.31 379.36,394.78 380.30,395.25 381.25,395.71 382.20,396.18 383.14,396.64 384.09,397.11 385.03,397.57 385.98,398.03 386.93,398.49 387.87,398.95 388.82,399.41 389.76,399.86 390.71,400.32 391.66,400.77 392.60,401.22 393.55,401.67 394.49,402.12 395.44,402.57 396.39,403.01 397.33,403.46 398.28,403.90 399.22,404.34 400.17,404.78 401.12,405.22 402.06,405.66 403.01,406.10 403.95,406.53 404.90,406.96 405.85,407.39 406.79,407.82 407.74,408.25 408.68,408.68 409.63,409.11 410.58,409.53 411.52,409.95 412.47,410.38 413.41,410.80 414.36,411.21 415.31,411.63 416.25,412.05 417.20,412.46 418.14,412.87 419.09,413.28 420.04,413.69 420.98,414.10 421.93,414.51 422.87,414.91 423.82,415.32 424.77,415.72 425.71,416.12 426.66,416.52 427.60,416.92 428.55,417.31 429.49,417.71 430.44,418.10 431.39,418.49 432.33,418.88 433.28,419.27 434.22,419.66 435.17,420.04 436.12,420.43 437.06,420.81 438.01,421.19 438.95,421.57 439.90,421.95 440.85,422.32 441.79,422.70 442.74,423.07 443.68,423.44 444.63,423.81 445.58,424.18 446.52,424.55 447.47,424.91 448.41,425.28 449.36,425.64 450.31,426.00 451.25,426.36 452.20,426.72 453.14,427.08 454.09,427.43 455.04,427.79 455.98,428.14 456.93,428.49 457.87,428.84 458.82,429.19 459.77,429.53 460.71,429.88 461.66,430.22 462.60,430.56 463.55,430.90 464.50,431.24 465.44,431.58 466.39,431.92 467.33,432.25 468.28,432.58 469.23,432.92 470.17,433.25 471.12,433.57 472.06,433.90 473.01,434.23 473.96,434.55 474.90,434.87 475.85,435.20 476.79,435.52 477.74,435.83 478.68,436.15 479.63,436.47 480.58,436.78 481.52,437.09 482.47,437.41 483.41,437.72 484.36,438.02 485.31,438.33 486.25,438.64 487.20,438.94 488.14,439.24 489.09,439.55 490.04,439.85 490.98,440.14 491.93,440.44 492.87,440.74 493.82,441.03 494.77,441.32 495.71,441.62 496.66,441.91 497.60,442.20 498.55,442.48 499.50,442.77 500.44,443.05 501.39,443.34 502.33,443.62 503.28,443.90 504.23,444.18 505.17,444.46 506.12,444.74 507.06,445.01 508.01,445.28 508.96,445.56 509.90,445.83 510.85,446.10 511.79,446.37 512.74,446.64 513.69,446.90 514.63,447.17 515.58,447.43 516.52,447.69 517.47,447.95 518.42,448.21 519.36,448.47 520.31,448.73 521.25,448.98 522.20,449.24 523.15,449.49 524.09,449.74 525.04,450.00 525.98,450.25 526.93,450.49 527.88,450.74 528.82,450.99 529.77,451.23 530.71,451.47 531.66,451.72 532.60,451.96 533.55,452.20 534.50,452.44 535.44,452.67 536.39,452.91 537.33,453.14 538.28,453.38 539.23,453.61 540.17,453.84 541.12,454.07 542.06,454.30 543.01,454.53 543.96,454.75 544.90,454.98 545.85,455.20 546.79,455.43 547.74,455.65 548.69,455.87 549.63,456.09 550.58,456.31 551.52,456.53 552.47,456.74 553.42,456.96 554.36,457.17 555.31,457.38 556.25,457.60 557.20,457.81 558.15,458.02 559.09,458.22 560.04,458.43 560.98,458.64 561.93,458.84 562.88,459.05 563.82,459.25 564.77,459.45 565.71,459.65 566.66,459.85 567.61,460.05 568.55,460.25 569.50,460.44 570.44,460.64 571.39,460.83 572.34,461.03 573.28,461.22 574.23,461.41 575.17,461.60 576.12,461.79 577.07,461.98 578.01,462.17 578.96,462.35 579.90,462.54 580.85,462.72 581.79,462.91 582.74,463.09 583.69,463.27 584.63,463.45 585.58,463.63 586.52,463.81 587.47,463.99 588.42,464.16 589.36,464.34 590.31,464.51 591.25,464.69 592.20,464.86 593.15,465.03 594.09,465.20 595.04,465.37 595.98,465.54 596.93,465.71 597.88,465.87 598.82,466.04 599.77,466.20 600.71,466.37 601.66,466.53 602.61,466.69 603.55,466.86 604.50,467.02 605.44,467.18 606.39,467.34 607.34,467.49 608.28,467.65 609.23,467.81 610.17,467.96 611.12,468.12 612.07,468.27 613.01,468.42 613.96,468.57 614.90,468.73 615.85,468.88 616.80,469.02 617.74,469.17 618.69,469.32 619.63,469.47 620.58,469.61 621.53,469.76 622.47,469.90 623.42,470.05 624.36,470.19 625.31,470.33 626.26,470.47 627.20,470.61 628.15,470.75 629.09,470.89 630.04,471.03 630.98,471.17 631.93,471.30 632.88,471.44 633.82,471.57 634.77,471.71 635.71,471.84 636.66,471.97 637.61,472.10 638.55,472.24 639.50,472.37 640.44,472.50 641.39,472.62 642.34,472.75 643.28,472.88 644.23,473.01 645.17,473.13 646.12,473.26 647.07,473.38 648.01,473.50 648.96,473.63 649.90,473.75 650.85,473.87 651.80,473.99 652.74,474.11 653.69,474.23 654.63,474.35 655.58,474.47" fill="none" stroke="#ff0000" stroke-width="1.85" stroke-linejoin="round"/>
<polyline points="79.10,493.30 79.10,486.49 79.11,486.12 79.11,485.73 79.11,485.32 79.11,484.89 79.11,484.43 79.11,483.96 79.11,483.45 79.11,482.92 79.12,482.36 79.12,481.77 79.12,481.14 79.12,480.49 79.13,479.79 79.13,479.06 79.13,478.30 79.14,477.48 79.14,476.63 79.15,475.73 79.16,474.78 79.16,473.78 79.17,472.73 79.18,471.62 79.19,470.45 79.21,469.21 79.22,467.91 79.24,466.54 79.26,465.10 79.28,463.58 79.30,461.98 79.33,460.30 79.36,458.52 79.40,456.65 79.44,454.68 79.48,452.60 79.54,450.42 79.60,448.12 79.66,445.70 79.74,443.16 79.83,440.48 79.93,437.66 80.05,434.70 80.18,431.59 80.32,428.32 80.49,424.89 80.68,421.29 80.90,417.51 81.15,413.55 81.43,409.41 81.75,405.07 82.11,400.54 82.53,395.81 83.00,390.88 83.54,385.75 84.15,380.42 84.84,374.89 85.63,369.18 86.53,363.29 87.55,357.24 88.71,351.04 88.95,349.84 89.89,345.35 90.84,341.19 91.79,337.33 92.73,333.74 93.68,330.39 94.62,327.25 95.57,324.31 96.52,321.55 97.46,318.96 98.41,316.52 99.35,314.22 100.30,312.05 101.25,310.01 102.19,308.08 103.14,306.26 104.08,304.54 105.03,302.91 105.98,301.38 106.92,299.93 107.87,298.57 108.81,297.28 109.76,296.06 110.71,294.91 111.65,293.83 112.60,292.82 113.54,291.86 114.49,290.96 115.44,290.12 116.38,289.33 117.33,288.59 118.27,287.90 119.22,287.26 120.16,286.66 121.11,286.10 122.06,285.59 123.00,285.12 123.95,284.68 124.89,284.28 125.84,283.92 126.79,283.59 127.73,283.30 128.68,283.03 129.62,282.80 130.57,282.60 131.52,282.43 132.46,282.28 133.41,282.17 134.35,282.07 135.30,282.01 136.25,281.96 137.19,281.95 138.14,281.95 139.08,281.98 140.03,282.03 140.98,282.10 141.92,282.18 142.87,282.29 143.81,282.42 144.76,282.57 145.71,282.73 146.65,282.91 147.60,283.11 148.54,283.32 149.49,283.55 150.44,283.80 151.38,284.06 152.33,284.33 153.27,284.62 154.22,284.92 155.17,285.23 156.11,285.56 157.06,285.90 158.00,286.25 158.95,286.61 159.90,286.98 160.84,287.37 161.79,287.76 162.73,288.17 163.68,288.58 164.63,289.01 165.57,289.44 166.52,289.89 167.46,290.34 168.41,290.80 169.36,291.27 170.30,291.74 171.25,292.23 172.19,292.72 173.14,293.22 174.08,293.72 175.03,294.24 175.98,294.76 176.92,295.28 177.87,295.81 178.81,296.35 179.76,296.90 180.71,297.44 181.65,298.00 182.60,298.56 183.54,299.12 184.49,299.69 185.44,300.27 186.38,300.85 187.33,301.43 188.27,302.02 189.22,302.61 190.17,303.20 191.11,303.80 192.06,304.40 193.00,305.01 193.95,305.62 194.90,306.23 195.84,306.85 196.79,307.47 197.73,308.09 198.68,308.71 199.63,309.34 200.57,309.97 201.52,310.60 202.46,311.24 203.41,311.87 204.36,312.51 205.30,313.15 206.25,313.79 207.19,314.44 208.14,315.08 209.09,315.73 210.03,316.38 210.98,317.03 211.92,317.68 212.87,318.33 213.82,318.98 214.76,319.64 215.71,320.29 216.65,320.95 217.60,321.61 218.55,322.27 219.49,322.93 220.44,323.59 221.38,324.24 222.33,324.91 223.27,325.57 224.22,326.23 225.17,326.89 226.11,327.55 227.06,328.21 228.00,328.87 228.95,329.54 229.90,330.20 230.84,330.86 231.79,331.52 232.73,332.18 233.68,332.84 234.63,333.51 235.57,334.17 236.52,334.83 237.46,335.49 238.41,336.15 239.36,336.81 240.30,337.46 241.25,338.12 242.19,338.78 243.14,339.44 244.09,340.09 245.03,340.75 245.98,341.40 246.92,342.06 247.87,342.71 248.82,343.36 249.76,344.01 250.71,344.66 251.65,345.31 252.60,345.96 253.55,346.60 254.49,347.25 255.44,347.90 256.38,348.54 257.33,349.18 258.28,349.82 259.22,350.46 260.17,351.10 261.11,351.74 262.06,352.37 263.01,353.01 263.95,353.64 264.90,354.27 265.84,354.91 266.79,355.53 267.74,356.16 268.68,356.79 269.63,357.41 270.57,358.04 271.52,358.66 272.47,359.28 273.41,359.90 274.36,360.52 275.30,361.13 276.25,361.75 277.19,362.36 278.14,362.97 279.09,363.58 280.03,364.18 280.98,364.79 281.92,365.39 282.87,366.00 283.82,366.60 284.76,367.20 285.71,367.79 286.65,368.39 287.60,368.98 288.55,369.57 289.49,370.16 290.44,370.75 291.38,371.34 292.33,371.92 293.28,372.51 294.22,373.09 295.17,373.67 296.11,374.24 297.06,374.82 298.01,375.39 298.95,375.96 299.90,376.53 300.84,377.10 301.79,377.67 302.74,378.23 303.68,378.79 304.63,379.35 305.57,379.91 306.52,380.47 307.47,381.02 308.41,381.58 309.36,382.13 310.30,382.67 311.25,383.22 312.20,383.77 313.14,384.31 314.09,384.85 315.03,385.39 315.98,385.93 316.93,386.46 317.87,386.99 318.82,387.52 319.76,388.05 320.71,388.58 321.66,389.10 322.60,389.63 323.55,390.15 324.49,390.67 325.44,391.18 326.38,391.70 327.33,392.21 328.28,392.72 329.22,393.23 330.17,393.74 331.11,394.24 332.06,394.75 333.01,395.25 333.95,395.75 334.90,396.24 335.84,396.74 336.79,397.23 337.74,397.72 338.68,398.21 339.63,398.70 340.57,399.18 341.52,399.67 342.47,400.15 343.41,400.63 344.36,401.10 345.30,401.58 346.25,402.05 347.20,402.52 348.14,402.99 349.09,403.46 350.03,403.93 350.98,404.39 351.93,404.85 352.87,405.31 353.82,405.77 354.76,406.22 355.71,406.68 356.66,407.13 357.60,407.58 358.55,408.03 359.49,408.47 360.44,408.92 361.39,409.36 362.33,409.80 363.28,410.24 364.22,410.67 365.17,411.11 366.12,411.54 367.06,411.97 368.01,412.40 368.95,412.82 369.90,413.25 370.85,413.67 371.79,414.09 372.74,414.51 373.68,414.93 374.63,415.34 375.57,415.76 376.52,416.17 377.47,416.58 378.41,416.98 379.36,417.39 380.30,417.79 381.25,418.20 382.20,418.60 383.14,419.00 384.09,419.39 385.03,419.79 385.98,420.18 386.93,420.57 387.87,420.96 388.82,421.35 389.76,421.73 390.71,422.12 391.66,422.50 392.60,422.88 393.55,423.26 394.49,423.64 395.44,424.01 396.39,424.38 397.33,424.76 398.28,425.13 399.22,425.49 400.17,425.86 401.12,426.22 402.06,426.59 403.01,426.95 403.95,427.31 404.90,427.66 405.85,428.02 406.79,428.37 407.74,428.73 408.68,429.08 409.63,429.43 410.58,429.77 411.52,430.12 412.47,430.46 413.41,430.81 414.36,431.15 415.31,431.49 416.25,431.82 417.20,432.16 418.14,432.49 419.09,432.83 420.04,433.16 420.98,433.49 421.93,433.81 422.87,434.14 423.82,434.46 424.77,434.79 425.71,435.11 426.66,435.43 427.60,435.75 428.55,436.06 429.49,436.38 430.44,436.69 431.39,437.00 432.33,437.31 433.28,437.62 434.22,437.93 435.17,438.23 436.12,438.54 437.06,438.84 438.01,439.14 438.95,439.44 439.90,439.74 440.85,440.04 441.79,440.33 442.74,440.63 443.68,440.92 444.63,441.21 445.58,441.50 446.52,441.78 447.47,442.07 448.41,442.36 449.36,442.64 450.31,442.92 451.25,443.20 452.20,443.48 453.14,443.76 454.09,444.03 455.04,444.31 455.98,444.58 456.93,444.85 457.87,445.12 458.82,445.39 459.77,445.66 460.71,445.93 461.66,446.19 462.60,446.46 463.55,446.72 464.50,446.98 465.44,447.24 466.39,447.50 467.33,447.75 468.28,448.01 469.23,448.26 470.17,448.52 471.12,448.77 472.06,449.02 473.01,449.27 473.96,449.52 474.90,449.76 475.85,450.01 476.79,450.25 477.74,450.49 478.68,450.74 479.63,450.98 480.58,451.21 481.52,451.45 482.47,451.69 483.41,451.92 484.36,452.16 485.31,452.39 486.25,452.62 487.20,452.85 488.14,453.08 489.09,453.31 490.04,453.53 490.98,453.76 491.93,453.98 492.87,454.21 493.82,454.43 494.77,454.65 495.71,454.87 496.66,455.09 497.60,455.30 498.55,455.52 499.50,455.73 500.44,455.95 501.39,456.16 502.33,456.37 503.28,456.58 504.23,456.79 505.17,457.00 506.12,457.21 507.06,457.41 508.01,457.62 508.96,457.82 509.90,458.02 510.85,458.22 511.79,458.42 512.74,458.62 513.69,458.82 514.63,459.02 515.58,459.22 516.52,459.41 517.47,459.60 518.42,459.80 519.36,459.99 520.31,460.18 521.25,460.37 522.20,460.56 523.15,460.75 524.09,460.93 525.04,461.12 525.98,461.30 526.93,461.49 527.88,461.67 528.82,461.85 529.77,462.03 530.71,462.21 531.66,462.39 532.60,462.57 533.55,462.75 534.50,462.92 535.44,463.10 536.39,463.27 537.33,463.44 538.28,463.61 539.23,463.79 540.17,463.96 541.12,464.13 542.06,464.29 543.01,464.46 543.96,464.63 544.90,464.79 545.85,464.96 546.79,465.12 547.74,465.28 548.69,465.45 549.63,465.61 550.58,465.77 551.52,465.93 552.47,466.09 553.42,466.24 554.36,466.40 555.31,466.56 556.25,466.71 557.20,466.86 558.15,467.02 559.09,467.17 560.04,467.32 560.98,467.47 561.93,467.62 562.88,467.77 563.82,467.92 564.77,468.07 565.71,468.21 566.66,468.36 567.61,468.50 568.55,468.65 569.50,468.79 570.44,468.93 571.39,469.08 572.34,469.22 573.28,469.36 574.23,469.50 575.17,469.64 576.12,469.77 577.07,469.91 578.01,470.05 578.96,470.18 579.90,470.32 580.85,470.45 581.79,470.58 582.74,470.72 583.69,470.85 584.63,470.98 585.58,471.11 586.52,471.24 587.47,471.37 588.42,471.50 589.36,471.62 590.31,471.75 591.25,471.88 592.20,472.00 593.15,472.13 594.09,472.25 595.04,472.37 595.98,472.50 596.93,472.62 597.88,472.74 598.82,472.86 599.77,472.98 600.71,473.10 601.66,473.22 602.61,473.34 603.55,473.45 604.50,473.57 605.44,473.69 606.39,473.80 607.34,473.91 608.28,474.03 609.23,474.14 610.17,474.25 611.12,474.37 612.07,474.48 613.01,474.59 613.96,474.70 614.90,474.81 615.85,474.92 616.80,475.03 617.74,475.13 618.69,475.24 619.63,475.35 620.58,475.45 621.53,475.56 622.47,475.66 623.42,475.77 624.36,475.87 625.31,475.97 626.26,476.07 627.20,476.18 628.15,476.28 629.09,476.38 630.04,476.48 630.98,476.58 631.93,476.67 632.88,476.77 633.82,476.87 634.77,476.97 635.71,477.06 636.66,477.16 637.61,477.26 638.55,477.35 639.50,477.44 640.44,477.54 641.39,477.63 642.34,477.72 643.28,477.82 644.23,477.91 645.17,478.00 646.12,478.09 647.07,478.18 648.01,478.27 648.96,478.36 649.90,478.45 650.85,478.54 651.80,478.62 652.74,478.71 653.69,478.80 654.63,478.88 655.58,478.97" fill="none" stroke="#0000ff" stroke-width="1.85" stroke-linejoin="round"/>
<circle cx="180.3" cy="492.3" r="4.8" fill="#ffd700"/>
<circle cx="307.7" cy="492.3" r="4.8" fill="#ffd700"/>
<circle cx="369.6" cy="492.3" r="4.8" fill="#ff0000"/>
<line x1="181.0" y1="276.3" x2="181.0" y2="501.2" stroke="rgba(255,0,0,0.36)" stroke-width="1.9" stroke-dasharray="3.1 2.5"/>
<line x1="308.0" y1="276.3" x2="308.0" y2="501.2" stroke="rgba(255,0,0,0.36)" stroke-width="1.9" stroke-dasharray="3.1 2.5"/>
<line x1="370.1" y1="276.3" x2="370.1" y2="501.2" stroke="rgba(255,0,0,0.36)" stroke-width="1.9" stroke-dasharray="3.1 2.5"/>
<circle cx="478.0" cy="373.7" r="4.9" fill="#ffc000"/>
<circle cx="478.0" cy="397.1" r="4.9" fill="#ff0000"/>
<text x="491.9" y="378.4" class="lg">Tercile threshold (<tspan font-style="italic" style="letter-spacing:0.2px">q</tspan><tspan font-size="9.5" dy="1.4" style="letter-spacing:0">1</tspan><tspan dy="-1.4" style="letter-spacing:0">, </tspan><tspan font-style="italic" style="letter-spacing:0.2px">q</tspan><tspan font-size="9.5" dy="1.4" style="letter-spacing:0">2</tspan><tspan dy="-1.4" style="letter-spacing:0">)</tspan></text>
<text x="491.4" y="401.1" class="lg">Observed rainfall (<tspan font-style="italic">o=604</tspan>)</text>
<text x="361.5" y="551.6" class="xl" text-anchor="middle">Monthly rainfall (mm)</text>
</svg>
</body></html>
